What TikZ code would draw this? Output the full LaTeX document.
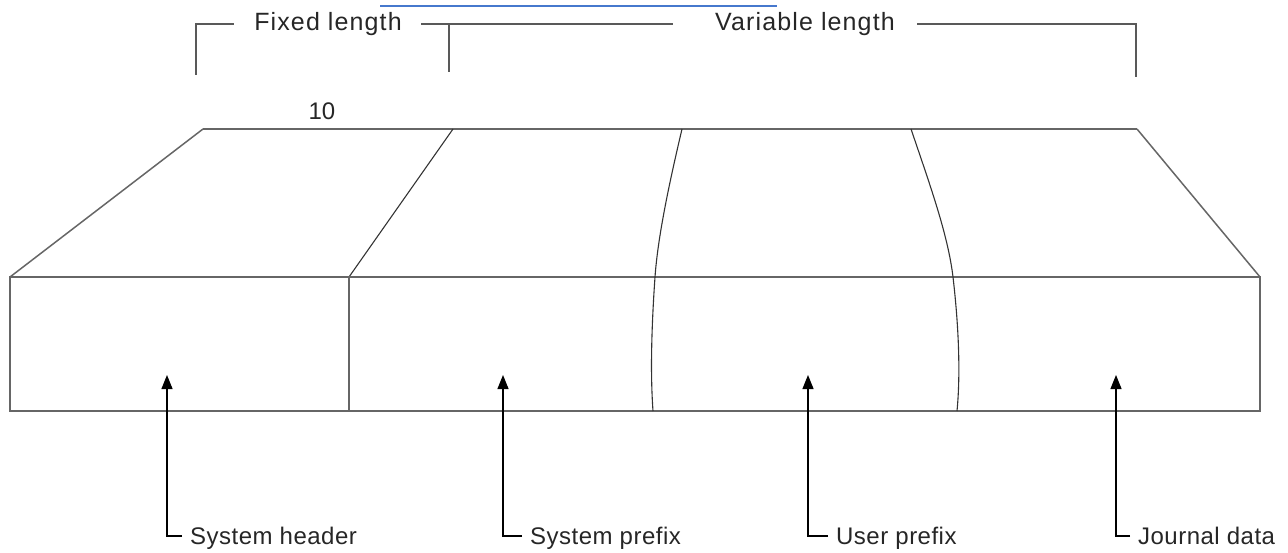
\documentclass[tikz,border=0pt]{standalone}
\usepackage{fontspec}
\setmainfont{Liberation Sans}
\usetikzlibrary{arrows.meta}
\definecolor{linkblue}{RGB}{70,120,205}
\begin{document}
\begin{tikzpicture}[x=1pt,y=-1pt,
  edge/.style={draw=black!60,line width=1.5pt},
  curveline/.style={draw=black!80,line width=1.1pt},
  bracket/.style={draw=black!65,line width=1.4pt},
  pointer/.style={draw=black,line width=1.2pt},
  tip/.style={-{Triangle[length=14pt,width=11pt]}},
  toplabel/.style={font=\fontsize{25}{29}\selectfont\addfontfeature{LetterSpace=4.5},text=black!85,inner sep=0pt,anchor=base},
  botlabel/.style={font=\fontsize{24}{28}\selectfont\addfontfeature{LetterSpace=2},text=black!85,inner sep=0pt,anchor=base west},
  numlabel/.style={font=\fontsize{24}{28}\selectfont,text=black!85,inner sep=0pt,anchor=base}
]
\useasboundingbox (0,0) rectangle (1288,553);

% link underline of the cut-off caption line
\draw[linkblue,line width=1.2pt] (380,6) -- (777,6);

% brackets and their labels
\node[toplabel] (fixed) at (328,31) {Fixed length};
\node[toplabel] (var) at (805,31) {Variable length};
\coordinate (fl1) at (196,75);
\coordinate (fl2) at (449,72);
\coordinate (vr) at (1136,77);
\draw[bracket] (fl1) |- (234,24);
\draw[bracket] (421,24) -- (673,24);
\draw[bracket] (fl2) -- (449,24);
\draw[bracket] (917,24) -| (vr);

% length label
\node[numlabel] (ten) at (322,120) {10};

% top face
\coordinate (b1) at (203,129);
\coordinate (b2) at (453,129);
\coordinate (b3) at (682,129);
\coordinate (b4) at (911,129);
\coordinate (b5) at (1137,129);
\coordinate (f1) at (10,277);
\coordinate (f2) at (349,277);
\coordinate (f5) at (1260,277);
\draw[edge] (b1) -- (b5);
\draw[edge] (b1) -- (f1);
\draw[edge] (b5) -- (f5);
\draw[curveline] (b2) -- (f2);

% front face
\draw[edge] (10,277) rectangle (1260,411);
\draw[edge] (f2) -- (349,411);

% curved separators
\draw[curveline] (b3) .. controls (670,180) and (658,235) .. (655,277)
                      .. controls (652,320) and (650,370) .. (653,411);
\draw[curveline] (b4) .. controls (930,185) and (948,235) .. (953,277)
                      .. controls (958,320) and (961,370) .. (957,411);

% labels with pointers
\node[botlabel] (sh) at (190,544) {System header};
\node[botlabel] (sp) at (530,544) {System prefix};
\node[botlabel] (up) at (836,544) {User prefix};
\node[botlabel] (jd) at (1138,544) {Journal data};

\coordinate (t1) at (167,375);
\coordinate (t2) at (503,375);
\coordinate (t3) at (808,375);
\coordinate (t4) at (1116,375);

\draw[pointer,tip] (sh.west |- 0,536) ++(-8,0) -- (167,536) -- (t1);
\draw[pointer,tip] (sp.west |- 0,536) ++(-8,0) -- (503,536) -- (t2);
\draw[pointer,tip] (up.west |- 0,536) ++(-8,0) -- (808,536) -- (t3);
\draw[pointer,tip] (jd.west |- 0,536) ++(-8,0) -- (1116,536) -- (t4);
\end{tikzpicture}
\end{document}
